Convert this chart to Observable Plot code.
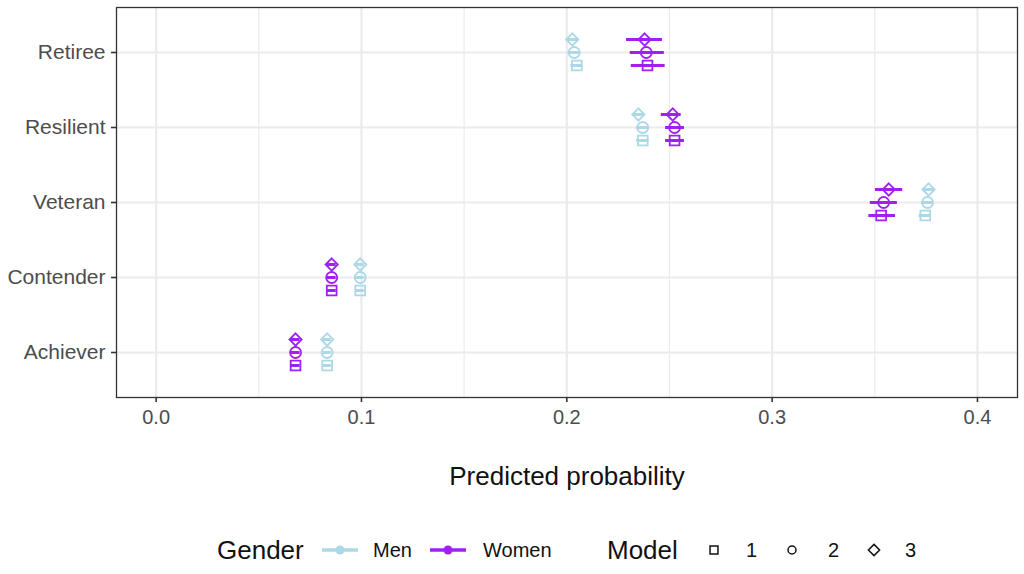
<!DOCTYPE html>
<html>
<head>
<meta charset="utf-8">
<script src="https://cdn.jsdelivr.net/npm/d3@7"></script>
<script src="https://cdn.jsdelivr.net/npm/@observablehq/plot@0.6"></script>
<style>
  body { margin: 0; background: #fff; font-family: "Liberation Sans", Arial, sans-serif; }
  #wrap { position: relative; width: 1024px; height: 574px; }
  #legend { position: absolute; top: 530px; left: 0; width: 1024px; height: 40px; color: #000; }
  #legend > * { position: absolute; top: 20px; transform: translateY(-50%); white-space: nowrap; }
  .lt { font-size: 26px; color: #111; }
  .li { font-size: 20px; color: #111; }
  svg.key { display: block; }
</style>
</head>
<body>
<div id="wrap">
  <div id="chart"></div>
  <div id="legend"></div>
</div>
<script>
// Categories (top to bottom) and legend levels
const categories = ["Retiree", "Resilient", "Veteran", "Contender", "Achiever"];
const genders = ["Men", "Women"];
const models = ["1", "2", "3"];
const xTicks = [0, 0.1, 0.2, 0.3, 0.4];
const xMinorTicks = [0.05, 0.15, 0.25, 0.35];

// Estimates per category, columns = model 1, 2, 3
const menEstimate = [
  [0.2049, 0.2036, 0.2027],
  [0.2370, 0.2370, 0.2349],
  [0.3746, 0.3757, 0.3762],
  [0.0994, 0.0994, 0.0994],
  [0.0833, 0.0833, 0.0833]
];
const menLow = [
  [0.2020, 0.2006, 0.1997],
  [0.2340, 0.2340, 0.2319],
  [0.3716, 0.3727, 0.3732],
  [0.0974, 0.0974, 0.0974],
  [0.0813, 0.0813, 0.0813]
];
const menHigh = [
  [0.2079, 0.2066, 0.2057],
  [0.2400, 0.2400, 0.2379],
  [0.3776, 0.3787, 0.3792],
  [0.1014, 0.1014, 0.1014],
  [0.0853, 0.0853, 0.0853]
];
const womenEstimate = [
  [0.2393, 0.2387, 0.2379],
  [0.2525, 0.2525, 0.2516],
  [0.3531, 0.3543, 0.3568],
  [0.0855, 0.0855, 0.0855],
  [0.0679, 0.0679, 0.0679]
];
const womenLow = [
  [0.2314, 0.2309, 0.2291],
  [0.2481, 0.2481, 0.2460],
  [0.3471, 0.3478, 0.3503],
  [0.0833, 0.0833, 0.0833],
  [0.0657, 0.0657, 0.0657]
];
const womenHigh = [
  [0.2479, 0.2475, 0.2466],
  [0.2573, 0.2573, 0.2557],
  [0.3601, 0.3610, 0.3636],
  [0.0877, 0.0877, 0.0877],
  [0.0701, 0.0701, 0.0701]
];

const genderColors = ["#add8e6", "#a020f0"];
const modelSymbols = { "1": "square", "2": "circle", "3": "diamond2" };
const modelOffset = { "1": 13, "2": 0, "3": -13 };

const rows = [];
categories.forEach((c, i) => {
  models.forEach((m, j) => {
    rows.push({category: c, model: m, gender: "Men", est: menEstimate[i][j], lo: menLow[i][j], hi: menHigh[i][j]});
    rows.push({category: c, model: m, gender: "Women", est: womenEstimate[i][j], lo: womenLow[i][j], hi: womenHigh[i][j]});
  });
});

const marks = [
  Plot.ruleX(xMinorTicks, {stroke: "#ebebeb", strokeWidth: 1.2}),
  Plot.ruleX(xTicks, {stroke: "#ebebeb", strokeWidth: 2.2}),
  Plot.ruleY(categories, {y: d => d, stroke: "#ebebeb", strokeWidth: 2.2}),
  Plot.axisX(xTicks, {tickSize: 5, tickPadding: 7, fontSize: 20, fill: "#4d4d4d", stroke: "#333", strokeWidth: 1.6, tickFormat: d3.format(".1f"), label: null}),
  Plot.axisY({tickSize: 5, tickPadding: 6, fontSize: 21, fill: "#4d4d4d", stroke: "#333", strokeWidth: 1.6, label: null}),
  Plot.text(["Predicted probability"], {frameAnchor: "bottom", dy: 79, fontSize: 26, fill: "#111", lineAnchor: "middle"})
];
models.forEach(m => {
  const sub = rows.filter(d => d.model === m);
  marks.push(Plot.ruleY(sub, {y: "category", x1: "lo", x2: "hi", stroke: "gender", strokeWidth: 3, dy: modelOffset[m]}));
  marks.push(Plot.dot(sub, {x: "est", y: "category", stroke: "gender", symbol: () => modelSymbols[m], r: 5.5, strokeWidth: 1.8, fill: "none", dy: modelOffset[m]}));
});
marks.push(Plot.frame({stroke: "#333", strokeWidth: 1.3}));

const chart = Plot.plot({
  width: 1024,
  height: 500,
  marginLeft: 116,
  marginRight: 7,
  marginTop: 7,
  marginBottom: 103,
  style: {fontFamily: "'Liberation Sans', Arial, sans-serif", background: "#fff"},
  x: {domain: [-0.0193, 0.4195]},
  y: {type: "point", domain: categories, padding: 0.583},
  color: {domain: genders, range: genderColors},
  symbol: {domain: ["square", "circle", "diamond2"], range: ["square", "circle", "diamond2"]},
  marks
});
document.getElementById("chart").appendChild(chart);

// Legend (absolute positions)
const legend = d3.select("#legend");
const place = (sel, left) => sel.style("left", left + "px");
place(legend.append("span").attr("class", "lt").text("Gender"), 217);
const genderKeyX = [322, 430];
const genderTextX = [373, 483];
genders.forEach((g, i) => {
  const s = place(legend.append("svg").attr("class", "key").attr("width", 36).attr("height", 20), genderKeyX[i]);
  s.append("line").attr("x1", 0).attr("x2", 36).attr("y1", 10).attr("y2", 10).attr("stroke", genderColors[i]).attr("stroke-width", 3.5);
  s.append("circle").attr("cx", 18).attr("cy", 10).attr("r", 4.5).attr("fill", genderColors[i]);
  place(legend.append("span").attr("class", "li").text(g), genderTextX[i]);
});
place(legend.append("span").attr("class", "lt").text("Model"), 607);
const modelKeyX = [706, 784, 866];
const modelTextX = [746, 828, 905];
models.forEach((m, i) => {
  const s = place(legend.append("svg").attr("class", "key").attr("width", 16).attr("height", 20), modelKeyX[i]);
  const type = modelSymbols[m] === "square" ? d3.symbolSquare2 : modelSymbols[m] === "circle" ? d3.symbolCircle : d3.symbolDiamond2;
  const size = modelSymbols[m] === "circle" ? 50 : 80;
  s.append("path").attr("transform", "translate(8,10)").attr("d", d3.symbol(type, size)()).attr("fill", "none").attr("stroke", "#111").attr("stroke-width", 1.5);
  place(legend.append("span").attr("class", "li").text(m), modelTextX[i]);
});
</script>
</body>
</html>
